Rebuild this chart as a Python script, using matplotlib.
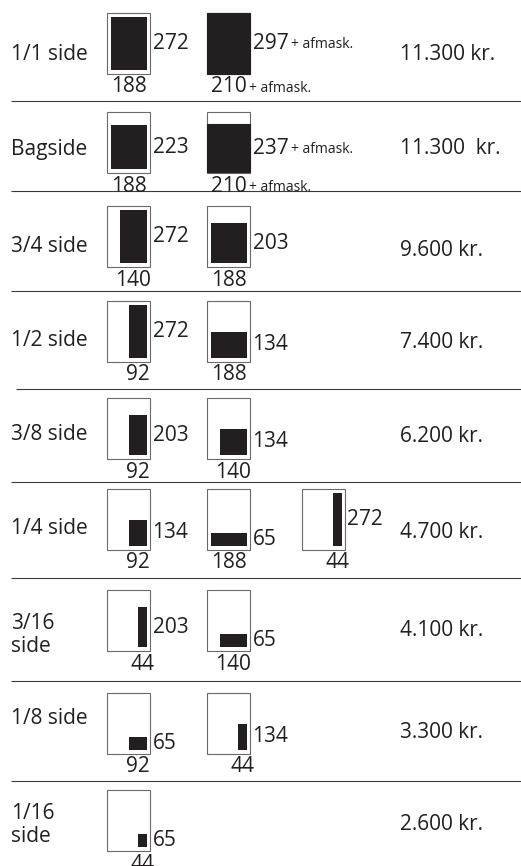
import matplotlib.pyplot as plt
from matplotlib.patches import Rectangle

# annonceformater: bredde x hoejde i mm, pris pr. format
row_labels = ["1/1 side", "Bagside", "3/4 side", "1/2 side", "3/8 side",
              "1/4 side", "3/16\nside", "1/8 side", "1/16\nside"]
prices = ["11.300 kr.", "11.300  kr.", "9.600 kr.", "7.400 kr.", "6.200 kr.",
          "4.700 kr.", "4.100 kr.", "3.300 kr.", "2.600 kr."]
ad_widths = [[188, 210], [188, 210], [140, 188], [92, 188], [92, 140],
             [92, 188, 44], [44, 140], [92, 44], [44]]
ad_heights = [[272, 297], [223, 237], [272, 203], [272, 134], [203, 134],
              [134, 65, 272], [203, 65], [65, 134], [65]]
bleed_note = "+ afmask."

PAGE_W, PAGE_H = 210, 297
CONTENT_W, CONTENT_H = 188, 272

# layout (pixels)
frame_tops = [13, 112, 206, 301, 398, 489, 590, 693, 790]
line_ys = [101, 191, 291, 389, 482, 578, 681, 781]
line_x0 = [11, 11, 11, 16, 11, 11, 11, 11]
label_ys = [55, 149, 246, 340, 435, 528, 635, 718, 825]
price_ys = [55, 149, 251, 343, 437, 532, 630, 733, 825]
col_x = [107, 207, 302]
FRAME_W, FRAME_H = 43, 60.5
INSET = 3.5

INK = "#231f20"
plt.rcParams["font.family"] = ["Open Sans", "DejaVu Sans"]

fig = plt.figure(figsize=(5.21, 8.66), dpi=100)
ax = fig.add_axes([0, 0, 1, 1])
ax.set_xlim(0, 521)
ax.set_ylim(866, 0)
ax.axis("off")

for y, x0 in zip(line_ys, line_x0):
    ax.plot([x0, 521], [y, y], color="#3a3a3a", lw=0.8, solid_capstyle="butt")

for i, label in enumerate(row_labels):
    ax.text(11, label_ys[i], label, fontsize=15, color=INK, va="center",
            ha="left", linespacing=1.1)
    ax.text(400, price_ys[i], prices[i], fontsize=15, color=INK,
            va="center", ha="left")

    top = frame_tops[i]
    bottom = top + FRAME_H
    for j, (w, h) in enumerate(zip(ad_widths[i], ad_heights[i])):
        x = col_x[j]
        ax.add_patch(Rectangle((x, top), FRAME_W, FRAME_H, facecolor="white",
                               edgecolor="#6a6a6a", lw=0.8))
        bleed = w > CONTENT_W
        if bleed:
            fw = FRAME_W
            fh = h / PAGE_H * FRAME_H
            fx = x
            fy = bottom - fh
            ax.add_patch(Rectangle((fx, fy), fw, fh, facecolor=INK,
                                   edgecolor=INK, lw=0.8))
        else:
            fw = w / CONTENT_W * (FRAME_W - 2 * INSET)
            fh = h / CONTENT_H * (FRAME_H - 2 * INSET)
            fx = x + FRAME_W - INSET - fw
            fy = bottom - INSET - fh
            ax.add_patch(Rectangle((fx, fy), fw, fh, facecolor=INK,
                                   edgecolor="none"))

        # hoejde til hoejre for rammen
        t = ax.text(x + FRAME_W + 2.5, fy + fh / 2, str(h), fontsize=15,
                    color=INK, va="center", ha="left")
        if bleed:
            ax.annotate(bleed_note, xy=(1, 0), xycoords=t, xytext=(2, 1.3),
                        textcoords="offset points", fontsize=10, color=INK,
                        va="bottom", ha="left")

        # bredde under rammen
        cx = fx + fw / 2
        wy = bottom + 3
        t = ax.text(cx, wy, str(w), fontsize=15, color=INK, va="top",
                    ha="center")
        if bleed:
            ax.annotate(bleed_note, xy=(1, 0), xycoords=t, xytext=(2, 1.3),
                        textcoords="offset points", fontsize=10, color=INK,
                        va="bottom", ha="left")

fig.savefig("out.png", dpi=100)
